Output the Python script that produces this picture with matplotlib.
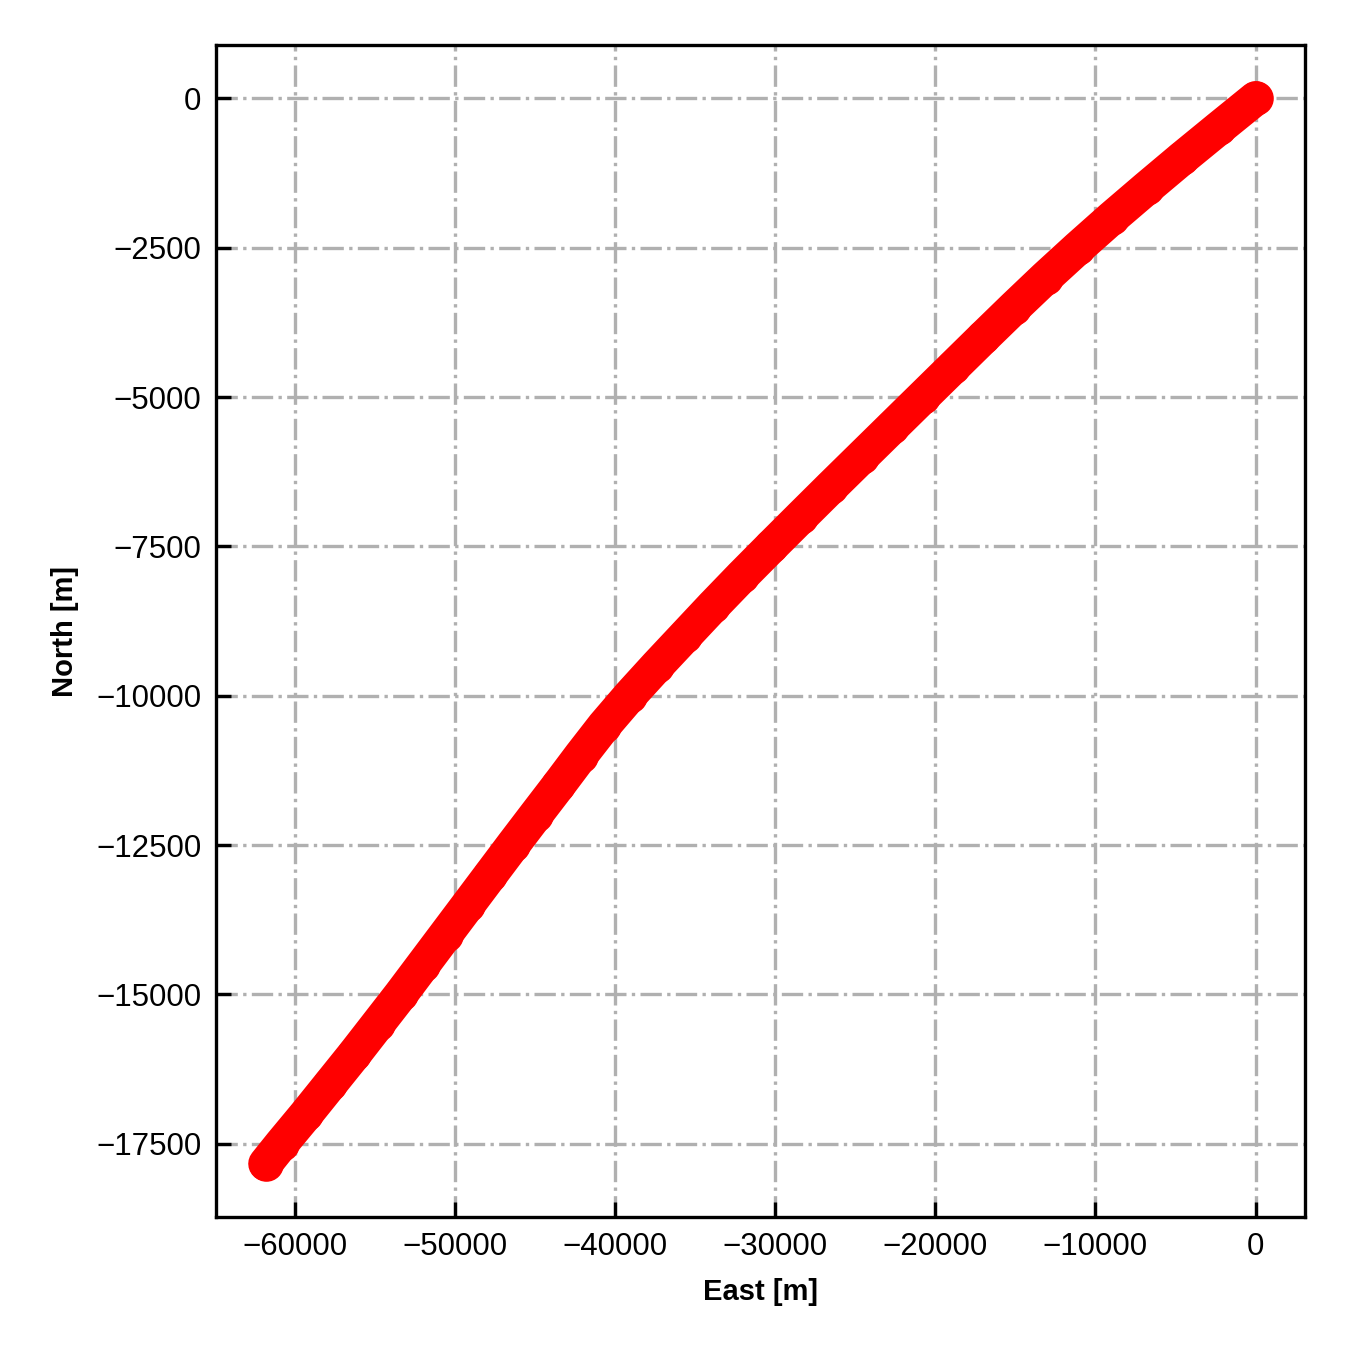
import matplotlib
matplotlib.use("Agg")
import matplotlib.pyplot as plt

plt.rcParams['font.family'] = ['Liberation Sans', 'DejaVu Sans']

# Trajectory (metres)
north = [0, -500, -1000, -1500, -2000, -2500, -3000, -3500, -4000, -4500,
         -5000, -5500, -6000, -6500, -7000, -7500, -8000, -8500, -9000, -9500,
         -10000, -10500, -11000, -11500, -12000, -12500, -13000, -13500,
         -14000, -14500, -15000, -15500, -16000, -16500, -17000, -17500, -17834]
east = [0, -2300, -4580, -6800, -8980, -11080, -13120, -15080, -17000, -18900,
        -20800, -22700, -24600, -26500, -28380, -30250, -32100, -33900, -35650, -37400,
        -39100, -40700, -42150, -43550, -44980, -46400, -47800, -49200,
        -50600, -52000, -53400, -54850, -56300, -57800, -59300, -60850, -61850]

xticks = [-60000, -50000, -40000, -30000, -20000, -10000, 0]
yticks = [0, -2500, -5000, -7500, -10000, -12500, -15000, -17500]

fig = plt.figure(figsize=(4.5, 4.5), dpi=300)
ax = fig.add_axes([0.16, 0.0985, 0.8067, 0.868])

ax.plot(east, north, color='red', lw=8.3, solid_capstyle='round',
        solid_joinstyle='round', marker='o', ms=8.3, mew=0, zorder=3)

ax.set_xticks(xticks)
ax.set_yticks(yticks)
ax.tick_params(direction='in', labelsize=7.5, width=0.8, length=3.5, top=False, right=False)
for s in ax.spines.values():
    s.set_linewidth(0.8)
ax.grid(True, color='#b0b0b0', linestyle='-.', linewidth=0.8, zorder=0)
ax.set_axisbelow(True)
ax.set_xlabel('East [m]', fontsize=7, fontweight='bold')
ax.set_ylabel('North [m]', fontsize=7, fontweight='bold')
ax.margins(0.05)

fig.savefig('out.png', dpi=300)
